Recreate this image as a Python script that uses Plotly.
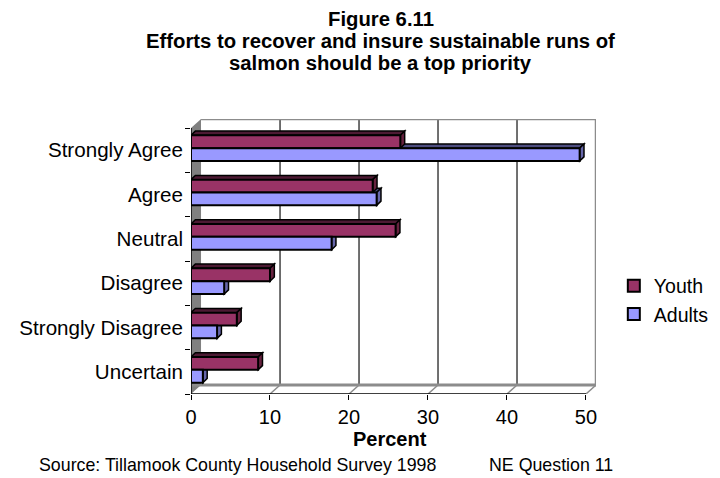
import plotly.graph_objects as go

categories = ["Strongly Agree", "Agree", "Neutral", "Disagree", "Strongly Disagree", "Uncertain"]
youth = [26.5, 23.0, 25.9, 10.0, 5.8, 8.5]
adults = [49.2, 23.5, 17.8, 4.2, 3.3, 1.5]
x_ticks = [0, 10, 20, 30, 40, 50]

YOUTH_COLOR = "#993366"
ADULT_COLOR = "#9999FF"
FONT = "Liberation Sans, Arial, sans-serif"

pos = list(range(len(categories)))
BAR_W = 0.29
OFF_Y = -0.335
OFF_A = -0.045
# depth of 3D effect (data units)
WALL_DX, WALL_DY = 1.27, 0.203
BAR_DX, BAR_DY = 0.55, 0.095
X_MAX = 50
Y_BOTTOM = len(categories) - 0.5
Y_TOP = -0.5

fig = go.Figure()
fig.add_trace(go.Bar(y=pos, x=youth, orientation="h", name="Youth", base=0,
                     offset=OFF_Y, width=BAR_W,
                     marker=dict(color=YOUTH_COLOR, line=dict(color="black", width=2))))
fig.add_trace(go.Bar(y=pos, x=adults, orientation="h", name="Adults", base=0,
                     offset=OFF_A, width=BAR_W,
                     marker=dict(color=ADULT_COLOR, line=dict(color="black", width=2))))

shapes = []
# left wall
shapes.append(dict(type="path", xref="x", yref="y", layer="below",
                   path=f"M0,{Y_TOP} L0,{Y_BOTTOM} L{WALL_DX},{Y_BOTTOM - WALL_DY} L{WALL_DX},{Y_TOP - WALL_DY} Z",
                   fillcolor="#808080", line=dict(width=0)))
# back gridlines
for t in x_ticks[1:-1]:
    shapes.append(dict(type="line", xref="x", yref="y", layer="below",
                       x0=t + WALL_DX, x1=t + WALL_DX, y0=Y_TOP - WALL_DY, y1=Y_BOTTOM - WALL_DY,
                       line=dict(color="#111111", width=1.2)))
# back frame top + right
shapes.append(dict(type="path", xref="x", yref="y", layer="below",
                   path=f"M{WALL_DX},{Y_TOP - WALL_DY} L{X_MAX + WALL_DX},{Y_TOP - WALL_DY} L{X_MAX + WALL_DX},{Y_BOTTOM - WALL_DY}",
                   line=dict(color="#8c8c8c", width=2.5)))
# floor back edge
shapes.append(dict(type="line", xref="x", yref="y", layer="below",
                   x0=0, x1=X_MAX + WALL_DX, y0=Y_BOTTOM - WALL_DY, y1=Y_BOTTOM - WALL_DY,
                   line=dict(color="#8c8c8c", width=3)))
# floor diagonals
for t in x_ticks[1:]:
    shapes.append(dict(type="line", xref="x", yref="y", layer="below",
                       x0=t + WALL_DX, x1=t, y0=Y_BOTTOM - WALL_DY, y1=Y_BOTTOM,
                       line=dict(color="#8c8c8c", width=1.5)))
# front axes
shapes.append(dict(type="line", xref="x", yref="y", layer="above",
                   x0=0, x1=X_MAX, y0=Y_BOTTOM, y1=Y_BOTTOM, line=dict(color="black", width=1.5)))
shapes.append(dict(type="line", xref="x", yref="y", layer="above",
                   x0=0, x1=0, y0=Y_TOP, y1=Y_BOTTOM, line=dict(color="black", width=1.5)))


def bar_faces(vals, off, top_col, side_col):
    out = []
    for p, v in zip(pos, vals):
        yt = p + off
        yb = yt + BAR_W
        out.append(dict(type="path", xref="x", yref="y", layer="below",
                        path=f"M0,{yt} L{v},{yt} L{v + BAR_DX},{yt - BAR_DY} L{BAR_DX},{yt - BAR_DY} Z",
                        fillcolor=top_col, line=dict(color="black", width=1.5)))
        out.append(dict(type="path", xref="x", yref="y", layer="below",
                        path=f"M{v},{yt} L{v},{yb} L{v + BAR_DX},{yb - BAR_DY} L{v + BAR_DX},{yt - BAR_DY} Z",
                        fillcolor=side_col, line=dict(color="black", width=1.5)))
    return out


shapes += bar_faces(adults, OFF_A, "#4d4d80", "#6666aa")
shapes += bar_faces(youth, OFF_Y, "#4d1a33", "#66223f")

annotations = [
    dict(text="<b>Figure 6.11</b>", x=0.469, y=1.3636),
    dict(text="<b>Efforts to recover and insure sustainable runs of</b>", x=0.469, y=1.2836),
    dict(text="<b>salmon should be a top priority</b>", x=0.469, y=1.2036),
]
for a in annotations:
    a.update(xref="paper", yref="paper", xanchor="center", yanchor="middle", showarrow=False,
             font=dict(family=FONT, size=20.3, color="black"))
annotations.append(dict(text="<b>Percent</b>", x=0.491, y=-0.1636, xref="paper", yref="paper",
                        xanchor="center", yanchor="middle", showarrow=False,
                        font=dict(family=FONT, size=20, color="black")))
annotations.append(dict(text="Source: Tillamook County Household Survey 1998", x=-0.380, y=-0.258,
                        xref="paper", yref="paper", xanchor="left", yanchor="middle", showarrow=False,
                        font=dict(family=FONT, size=17.8, color="black")))
annotations.append(dict(text="NE Question 11", x=0.731, y=-0.258,
                        xref="paper", yref="paper", xanchor="left", yanchor="middle", showarrow=False,
                        font=dict(family=FONT, size=17.8, color="black")))

fig.update_layout(
    width=720, height=478,
    margin=dict(l=191, r=124, t=119, b=84, autoexpand=False),
    paper_bgcolor="white", plot_bgcolor="white",
    barmode="overlay",
    showlegend=True,
    legend=dict(x=1.044, y=0.342, xanchor="left", yanchor="middle",
                font=dict(family=FONT, size=19.5, color="black"),
                bgcolor="rgba(0,0,0,0)", traceorder="normal"),
    shapes=shapes,
    annotations=annotations,
    xaxis=dict(range=[0, X_MAX + WALL_DX], tickvals=x_ticks, ticktext=[str(t) for t in x_ticks],
               ticks="outside", ticklen=5, tickcolor="black", showgrid=False, zeroline=False,
               showline=False, automargin=False, tickfont=dict(family=FONT, size=20, color="black")),
    yaxis=dict(range=[Y_BOTTOM, Y_TOP - WALL_DY], tickvals=pos, ticktext=categories,
               ticks="", showgrid=False, zeroline=False, showline=False, automargin=False,
               ticklabelstandoff=7,
               minor=dict(tickvals=[i - 0.5 for i in range(len(categories) + 1)], ticks="outside",
                          ticklen=5, tickcolor="black", showgrid=False),
               tickfont=dict(family=FONT, size=20.6, color="black")),
    font=dict(family=FONT, color="black"),
)

fig.write_html("out.html", config={"displayModeBar": False},
               post_script="document.body.style.margin='0';document.body.style.overflow='hidden';")
